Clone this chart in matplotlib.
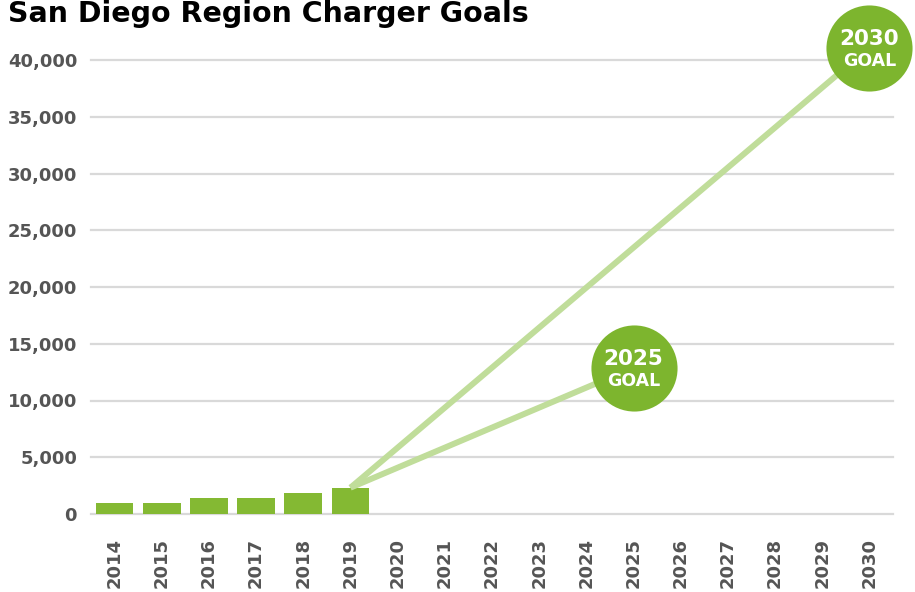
import matplotlib
matplotlib.use("Agg")
import matplotlib.pyplot as plt

years = [str(y) for y in range(2014, 2031)]
bar_years = ["2014", "2015", "2016", "2017", "2018", "2019"]
bar_values = [940, 940, 1380, 1380, 1850, 2320]
goal_years = ["2025", "2030"]
goal_values = [12900, 41100]
goal_labels = ["2025\nGOAL", "2030\nGOAL"]
yticks = [0, 5000, 10000, 15000, 20000, 25000, 30000, 35000, 40000]
ytick_labels = ["0", "5,000", "10,000", "15,000", "20,000", "25,000", "30,000", "35,000", "40,000"]
title = "San Diego Region Charger Goals"

BAR = "#84b933"
LINE = "#c0dd9a"
CIRCLE = "#7db52e"
GRID = "#d9d9d9"
TICK = "#555555"

plt.rcParams['font.family'] = ['DejaVu Sans']
fig = plt.figure(figsize=(9.15, 5.92), dpi=100)
ax = fig.add_axes([91/915, 1 - 514/592, (893-91)/915, (514-60)/592])

idx = {y: i for i, y in enumerate(years)}
bx = [idx[y] for y in bar_years]
ax.bar(bx, bar_values, width=0.8, color=BAR, zorder=3)

# goal lines from top of last bar
x0, y0 = bx[-1], bar_values[-1]
for gy, gv in zip(goal_years, goal_values):
    ax.plot([x0, idx[gy]], [y0, gv], color=LINE, lw=4.3, solid_capstyle='butt', zorder=4, clip_on=False)
for gy, gv, lab in zip(goal_years, goal_values, goal_labels):
    ax.scatter([idx[gy]], [gv], s=3844, color=CIRCLE, zorder=5, clip_on=False, linewidths=0)
    top, bot = lab.split("\n")
    ax.annotate(top, (idx[gy], gv), xytext=(0, 6), textcoords='offset points', ha='center', va='center',
                color='white', fontsize=15.5, fontweight='bold', zorder=6, annotation_clip=False)
    ax.annotate(bot, (idx[gy], gv), xytext=(0, -9.5), textcoords='offset points', ha='center', va='center',
                color='white', fontsize=12.5, fontweight='bold', zorder=6, annotation_clip=False)

ax.set_xlim(-0.5, len(years) - 0.5)
ax.set_ylim(0, 40000)
ax.set_xticks(range(len(years)))
ax.set_xticklabels(years, rotation=90, fontsize=13, fontweight='bold', color=TICK)
ax.set_yticks(yticks)
ax.set_yticklabels(ytick_labels, fontsize=13, fontweight='bold', color=TICK)
ax.tick_params(axis='x', length=0, pad=17)
ax.tick_params(axis='y', length=0, pad=10)
for s in ax.spines.values():
    s.set_visible(False)
ax.yaxis.grid(True, color=GRID, lw=1.6, zorder=0)
ax.set_axisbelow(True)
for gl in ax.get_ygridlines():
    gl.set_clip_on(False)

fig.text(8/915, 1 - 22/592, title, fontsize=20.5, fontweight='bold', color='black', va='baseline', ha='left')

fig.savefig("out.png", dpi=100)
